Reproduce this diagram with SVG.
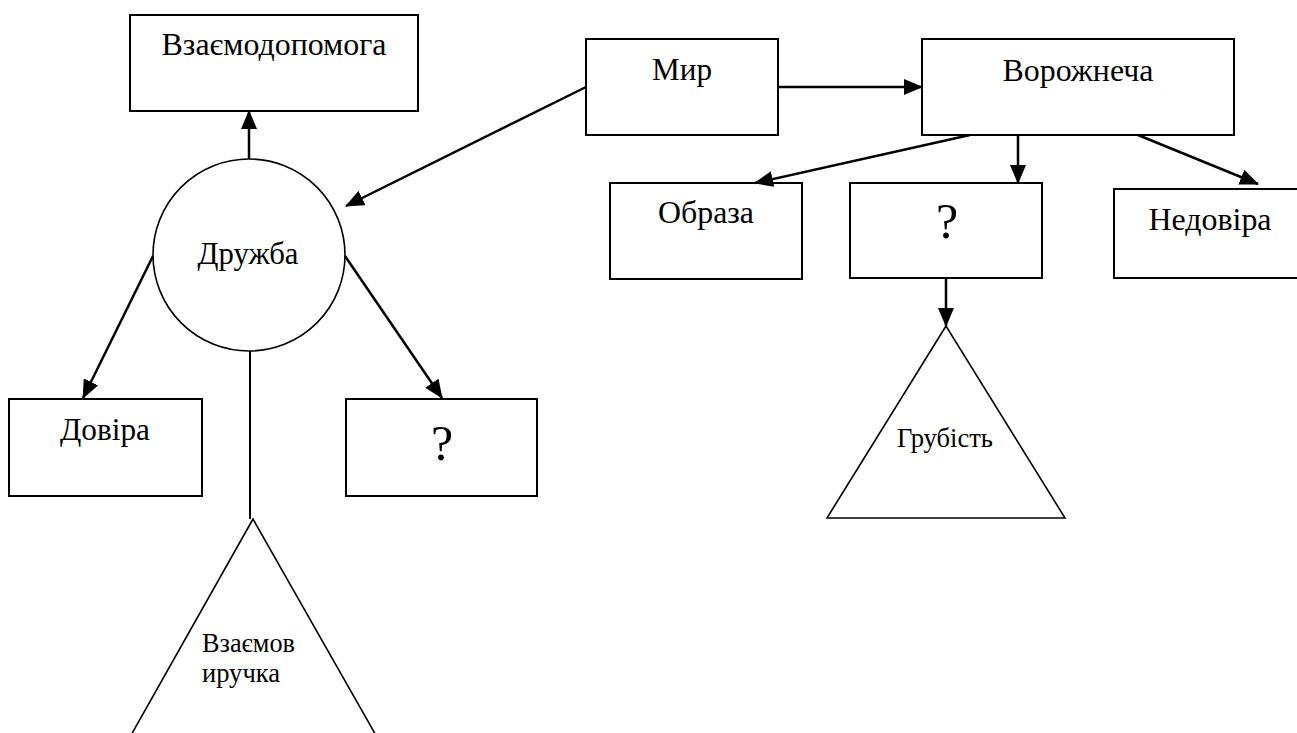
<svg xmlns="http://www.w3.org/2000/svg" width="1297" height="733" viewBox="0 0 1297 733">
  <defs>
    <marker id="arr" markerUnits="userSpaceOnUse" markerWidth="19" markerHeight="16" refX="18" refY="8" orient="auto">
      <path d="M0,0 L19,8 L0,16 Z" fill="#000"/>
    </marker>
    <style>
      .box{fill:#fff;stroke:#000;stroke-width:2}
      .shape{fill:#fff;stroke:#000;stroke-width:1.6}
      .con{fill:none;stroke:#000;stroke-width:2.5}
      .arrow{marker-end:url(#arr)}
      .t{font-family:"Liberation Serif","Times New Roman",serif;font-size:32px;fill:#000;text-anchor:middle}
      .q{font-family:"Liberation Serif","Times New Roman",serif;font-size:50px;fill:#000;text-anchor:middle}
      .s{font-family:"Liberation Serif","Times New Roman",serif;font-size:27px;fill:#000}
    </style>
  </defs>
  <rect width="1297" height="733" fill="#fff"/>

  <g id="vzaiemodopomoha">
    <rect class="box" x="130" y="15" width="288" height="96"/>
    <text class="t" x="274" y="55" textLength="225" lengthAdjust="spacingAndGlyphs">Взаємодопомога</text>
  </g>
  <g id="druzhba">
    <circle class="shape" cx="249" cy="255" r="96"/>
    <text class="t" x="248" y="264" textLength="101" lengthAdjust="spacingAndGlyphs">Дружба</text>
  </g>
  <g id="dovira">
    <rect class="box" x="9" y="399" width="193" height="97"/>
    <text class="t" x="105" y="440" textLength="90" lengthAdjust="spacingAndGlyphs">Довіра</text>
  </g>
  <g id="question-left">
    <rect class="box" x="346" y="399" width="191" height="97"/>
    <text class="q" x="442" y="460">?</text>
  </g>
  <g id="vzaiemovyruchka">
    <polygon class="shape" points="253,519 117,760 390,760"/>
    <text class="s" x="202" y="652" textLength="93" lengthAdjust="spacingAndGlyphs">Взаємов</text>
    <text class="s" x="202" y="682" textLength="78" lengthAdjust="spacingAndGlyphs">иручка</text>
  </g>
  <g id="myr">
    <rect class="box" x="586" y="39" width="192" height="96"/>
    <text class="t" x="682" y="80" textLength="60" lengthAdjust="spacingAndGlyphs">Мир</text>
  </g>
  <g id="vorozhnecha">
    <rect class="box" x="922" y="39" width="312" height="96"/>
    <text class="t" x="1078" y="81" textLength="151" lengthAdjust="spacingAndGlyphs">Ворожнеча</text>
  </g>
  <g id="obraza">
    <rect class="box" x="610" y="183" width="192" height="96"/>
    <text class="t" x="706" y="223" textLength="96" lengthAdjust="spacingAndGlyphs">Образа</text>
  </g>
  <g id="question-mid">
    <rect class="box" x="850" y="183" width="192" height="95"/>
    <text class="q" x="947" y="238">?</text>
  </g>
  <g id="nedovira">
    <rect class="box" x="1114" y="189" width="200" height="89"/>
    <text class="t" x="1210" y="230" textLength="123" lengthAdjust="spacingAndGlyphs">Недовіра</text>
  </g>
  <g id="hrubist">
    <polygon class="shape" points="946,326 827,518 1065,518"/>
    <text class="s" x="945" y="447" text-anchor="middle" style="font-size:27px" textLength="96" lengthAdjust="spacingAndGlyphs">Грубість</text>
  </g>

  <g id="connectors">
    <line class="con arrow" x1="249" y1="159" x2="249" y2="111"/>
    <line class="con arrow" x1="586" y1="87" x2="346" y2="206"/>
    <line class="con arrow" x1="778" y1="87" x2="922" y2="87"/>
    <line class="con arrow" x1="970" y1="135" x2="755" y2="183"/>
    <line class="con arrow" x1="1018" y1="135" x2="1018" y2="183"/>
    <line class="con arrow" x1="1138" y1="135" x2="1258" y2="184"/>
    <line class="con arrow" x1="153" y1="256" x2="83" y2="398"/>
    <line class="con arrow" x1="345" y1="256" x2="442" y2="398"/>
    <line class="con" x1="250" y1="351" x2="250" y2="519" style="stroke-width:2"/>
    <line class="con arrow" x1="946" y1="278" x2="946" y2="326"/>
  </g>
</svg>
